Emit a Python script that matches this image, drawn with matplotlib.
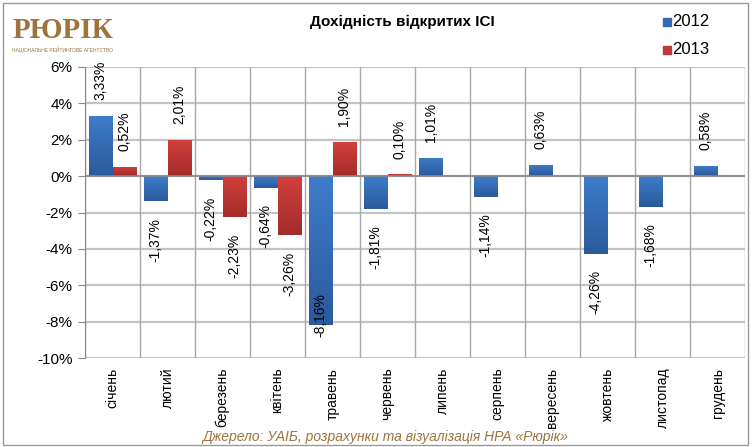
import matplotlib.pyplot as plt
import numpy as np
from matplotlib.patches import Rectangle
from matplotlib.colors import LinearSegmentedColormap

plt.rcParams['font.family'] = ['Liberation Sans', 'DejaVu Sans']

# дані
months = ['січень', 'лютий', 'березень', 'квітень', 'травень', 'червень',
          'липень', 'серпень', 'вересень', 'жовтень', 'листопад', 'грудень']
y2012 = [3.33, -1.37, -0.22, -0.64, -8.16, -1.81, 1.01, -1.14, 0.63, -4.26, -1.68, 0.58]
y2013 = [0.52, 2.01, -2.23, -3.26, 1.90, 0.10]
yticks = [6, 4, 2, 0, -2, -4, -6, -8, -10]

blue = '#3468b4'
red = '#c0393a'
blue_cm = LinearSegmentedColormap.from_list('b', ['#2c5a9c', '#3d7cca'])
red_cm = LinearSegmentedColormap.from_list('r', ['#a32c2b', '#d2403c'])

fig = plt.figure(figsize=(7.53, 4.47), dpi=100)
ax = fig.add_axes([85 / 753, 1 - 358 / 447, 660 / 753, 291 / 447])

x = np.arange(len(months))
w = 0.435
b1 = ax.bar(x[:len(y2012)] - w / 2, y2012, w, color='none', zorder=3)
b2 = ax.bar(x[:len(y2013)] + w / 2, y2013, w, color='none', zorder=3)

grad = np.linspace(0, 1, 64).reshape(-1, 1)


def shade(bars, cm):
    # градієнт зверху вниз у кожному стовпчику
    for r in bars:
        x0, y0 = r.get_x(), r.get_y()
        x1, y1 = x0 + r.get_width(), y0 + r.get_height()
        im = ax.imshow(grad, extent=[x0, x1, min(y0, y1), max(y0, y1)], origin='lower',
                       aspect='auto', cmap=cm, zorder=3)
        im.set_clip_path(r)


shade(b1, blue_cm)
shade(b2, red_cm)


def fmt(v):
    return f'{v:.2f}%'.replace('.', ',')


def label(bars, vals):
    for r, v in zip(bars, vals):
        cx = r.get_x() + r.get_width() / 2
        if v >= 0:
            ax.annotate(fmt(v), (cx, v), xytext=(0, 11), textcoords='offset points',
                        rotation=90, ha='center', va='bottom', fontsize=10, zorder=5)
        elif v < -7:
            ax.annotate(fmt(v), (cx, v), xytext=(0, -9), textcoords='offset points',
                        rotation=90, ha='center', va='bottom', fontsize=10, zorder=5)
        else:
            ax.annotate(fmt(v), (cx, v), xytext=(0, -12), textcoords='offset points',
                        rotation=90, ha='center', va='top', fontsize=10, zorder=5)


label(b1, y2012)
label(b2, y2013)

ax.set_xlim(-0.5, len(months) - 0.5)
ax.set_ylim(-10, 6)
ax.set_yticks(yticks)
ax.set_yticklabels([f'{t}%' for t in yticks], fontsize=11)
ax.set_xticks(x)
ax.set_xticklabels(months, rotation=90, fontsize=10)
ax.tick_params(axis='x', length=0, pad=7)
ax.tick_params(axis='y', length=5, color='#888888', pad=4)

# сітка
for t in yticks:
    ax.axhline(t, color='#c4c4c4', lw=1.6, zorder=1)
for b in np.arange(-0.5, len(months), 1):
    ax.axvline(b, color='#a8a8a8', lw=1.0, zorder=1)
ax.axhline(0, color='#888888', lw=1.2, zorder=4)

for s in ['top', 'right', 'bottom']:
    ax.spines[s].set_visible(False)
ax.spines['left'].set_color('#888888')

# заголовок, легенда, джерело
fig.text(402 / 753, 1 - 22 / 447, 'Дохідність відкритих ІСІ', ha='center', va='center',
         fontsize=11, fontweight='bold')
for i, (lab, c) in enumerate([('2012', blue), ('2013', red)]):
    yy = 1 - (22 + 28 * i) / 447
    fig.patches.append(Rectangle((663 / 753, yy - 4 / 447), 8 / 753, 8 / 447,
                                 transform=fig.transFigure, color=c))
    fig.text(672 / 753, yy, lab, ha='left', va='center', fontsize=12)

fig.text(385 / 753, 1 - 437 / 447, 'Джерело: УАІБ, розрахунки та візуалізація НРА «Рюрік»',
         ha='center', va='center', fontsize=10, style='italic', color='#a0723c')

# логотип
fig.text(63 / 753, 1 - 31 / 447, 'РЮРІК', ha='center', va='center', fontsize=21,
         fontweight='bold', family=['Liberation Serif', 'DejaVu Serif'], color='#a0723c')
fig.text(63 / 753, 1 - 50 / 447, 'НАЦІОНАЛЬНЕ РЕЙТИНГОВЕ АГЕНТСТВО', ha='center', va='center',
         fontsize=3.6, color='#a0723c')

fig.patches.append(Rectangle((3 / 753, 2 / 447), 745 / 753, 442 / 447,
                             transform=fig.transFigure, fill=False, ec='#9a9a9a', lw=1))

fig.savefig('out.png', dpi=100)
